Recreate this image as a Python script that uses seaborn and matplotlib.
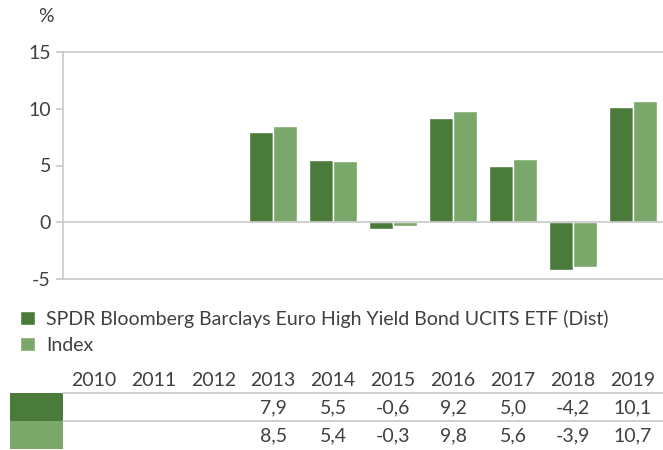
import numpy as np
import pandas as pd
import seaborn as sns
import matplotlib.pyplot as plt
from matplotlib.lines import Line2D
from matplotlib.patches import Rectangle
from matplotlib.transforms import blended_transform_factory

YEARS = ['2010', '2011', '2012', '2013', '2014', '2015', '2016', '2017', '2018', '2019']
FUND = [np.nan, np.nan, np.nan, 7.9, 5.5, -0.6, 9.2, 5.0, -4.2, 10.1]
INDEX = [np.nan, np.nan, np.nan, 8.5, 5.4, -0.3, 9.8, 5.6, -3.9, 10.7]
SERIES = ['SPDR Bloomberg Barclays Euro High Yield Bond UCITS ETF (Dist)', 'Index']
COLOURS = ['#4a7b3a', '#7aa86b']
GRID = '#c8c8c8'
TEXT = '#404040'

sns.set_style('white')
plt.rcParams['font.family'] = ['Lato', 'DejaVu Sans']
plt.rcParams['font.size'] = 14
plt.rcParams['text.color'] = TEXT
plt.rcParams['axes.unicode_minus'] = False

df = pd.DataFrame({
    'year': YEARS * 2,
    'value': FUND + INDEX,
    'series': [SERIES[0]] * len(YEARS) + [SERIES[1]] * len(YEARS),
})

W, H = 663, 450
fig = plt.figure(figsize=(W / 100, H / 100), dpi=100)
ax = fig.add_axes([63.3 / W, 1 - 279.3 / H, (W - 63.3) / W, (279.3 - 51.7) / H])

# saturation=1 so the greens come out as given
sns.barplot(data=df, x='year', y='value', hue='series', order=YEARS, hue_order=SERIES,
            palette=COLOURS, saturation=1, width=0.8, edgecolor='white', linewidth=1.0, ax=ax)

ax.set_ylim(-5, 15)
ax.set_yticks([-5, 0, 5, 10, 15])
ax.set_xlim(-0.5, len(YEARS) - 0.5)
ax.set_xticks([])
ax.set_xlabel('')
ax.set_ylabel('')
ax.axhline(0, color=GRID, lw=1.2, zorder=5)
for side in ['left', 'top', 'bottom']:
    ax.spines[side].set_color(GRID)
    ax.spines[side].set_linewidth(1.2)
ax.spines['right'].set_visible(False)
ax.tick_params(axis='y', left=True, length=5, width=1.2, color=GRID, labelcolor=TEXT, pad=4)
fig.text(46 / W, 1 - 17 / H, '%', ha='center', va='center', color=TEXT)

# legend
sns.move_legend(ax, 'upper left', bbox_to_anchor=(20 / W, 1 - 310 / H), bbox_transform=fig.transFigure,
                frameon=False, title=None, handlelength=0.75, handleheight=0.75,
                handletextpad=0.6, labelspacing=0.45, borderpad=0, borderaxespad=0)

# table below the chart
trans = blended_transform_factory(ax.transData, fig.transFigure)
for i, y in enumerate(YEARS):
    ax.text(i, 1 - 380 / H, y, transform=trans, ha='center', va='center', color=TEXT)
    for row, vals in enumerate([FUND, INDEX]):
        if not np.isnan(vals[i]):
            ax.text(i, 1 - (408 + 28 * row) / H, f'{vals[i]:.1f}'.replace('.', ','),
                    transform=trans, ha='center', va='center', color=TEXT)

for row, c in enumerate(COLOURS):
    fig.patches.append(Rectangle((10 / W, 1 - (421 + 28 * row) / H), 53 / W, 28 / H,
                                 transform=fig.transFigure, color=c, lw=0))
for yline in [393, 421]:
    fig.lines.append(Line2D([63 / W, 1], [1 - yline / H] * 2, transform=fig.transFigure,
                            color=GRID, lw=1.2))

fig.savefig('out.png', dpi=100)
